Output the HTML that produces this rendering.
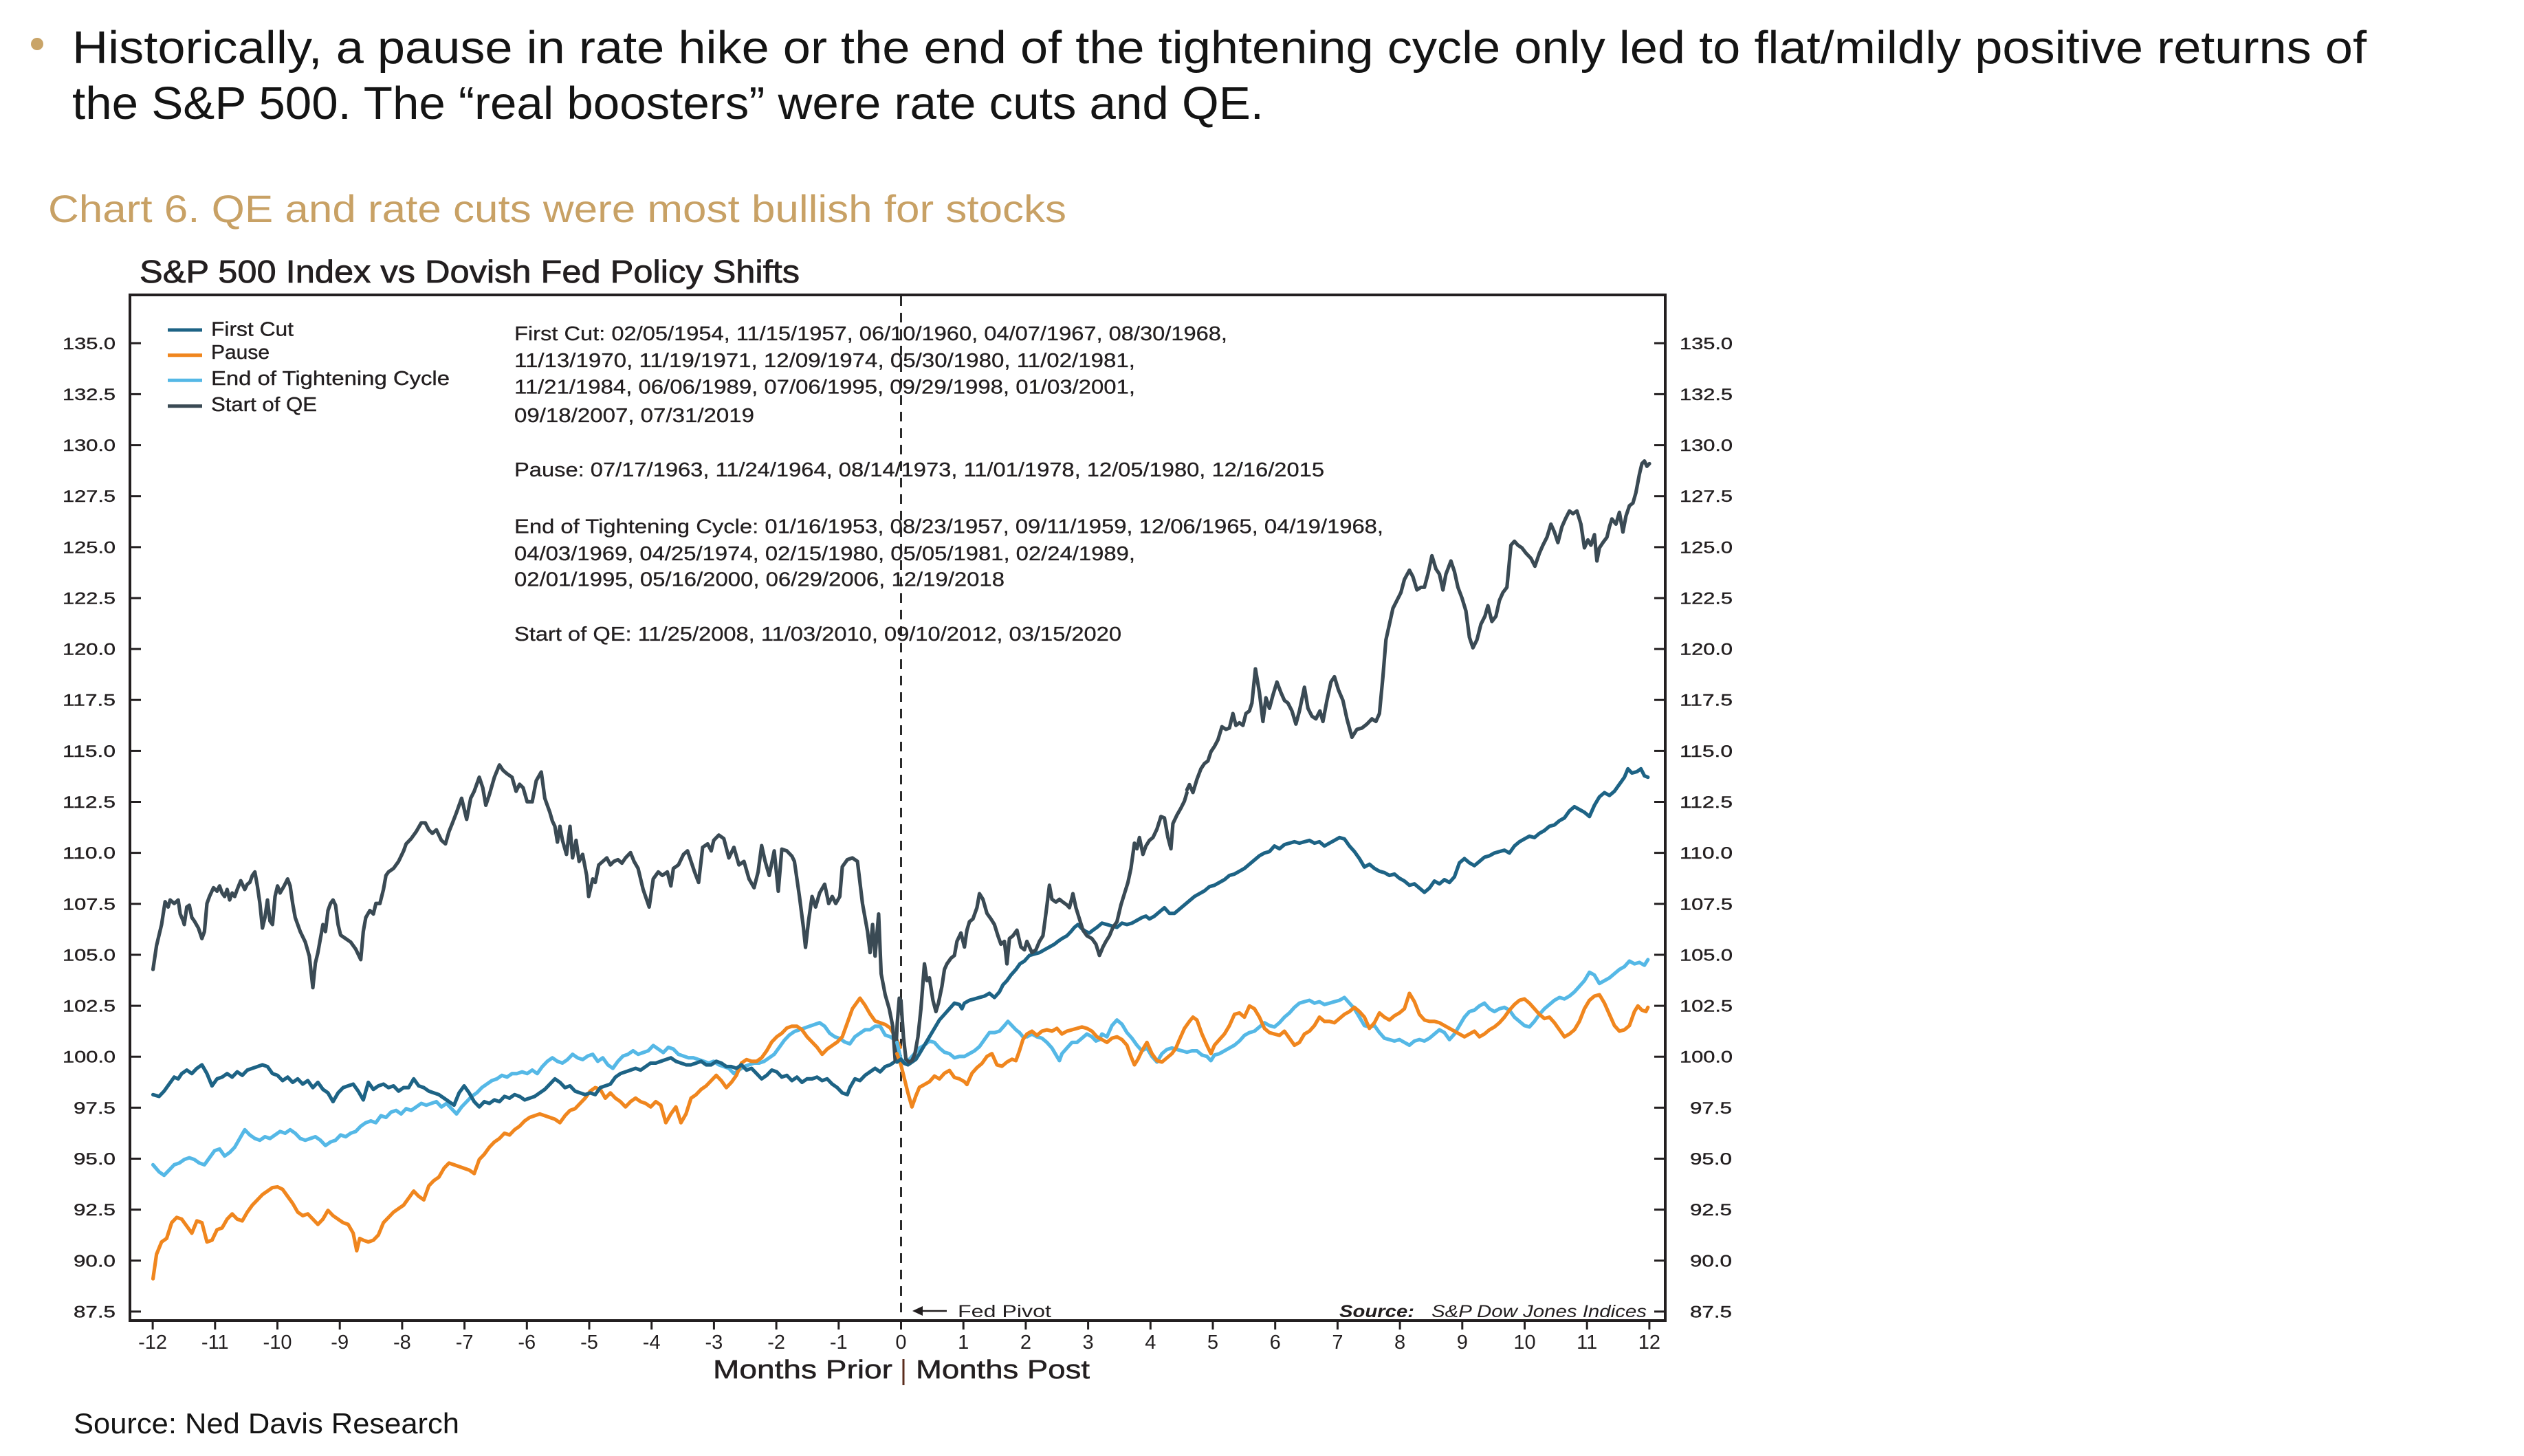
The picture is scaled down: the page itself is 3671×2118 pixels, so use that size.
<!DOCTYPE html>
<html>
<head>
<meta charset="utf-8">
<style>
  html,body{margin:0;padding:0;background:#ffffff;}
  body{width:3671px;height:2118px;overflow:hidden;}
  svg{display:block;}
  .t{font-family:"Liberation Sans", sans-serif;}
  .ax{font-family:"Liberation Sans", sans-serif;fill:#231f20;}
  .s{fill:none;stroke-width:5.2;stroke-linejoin:round;stroke-linecap:round;}
</style>
</head>
<body>
<svg width="3671" height="2118" viewBox="0 0 3671 2118" xmlns="http://www.w3.org/2000/svg">
  <rect x="0" y="0" width="3671" height="2118" fill="#ffffff"/>

  <!-- Header bullet text -->
  <circle cx="54" cy="64" r="9" fill="#c9a468"/>
  <text class="t" x="105" y="92" font-size="67" fill="#141414" textLength="3337" lengthAdjust="spacingAndGlyphs">Historically, a pause in rate hike or the end of the tightening cycle only led to flat/mildly positive returns of</text>
  <text class="t" x="105" y="173" font-size="67" fill="#141414" textLength="1733" lengthAdjust="spacingAndGlyphs">the S&amp;P 500.  The “real boosters” were rate cuts and QE.</text>

  <!-- Chart caption -->
  <text class="t" x="70" y="323" font-size="56" fill="#c8a165" textLength="1481" lengthAdjust="spacingAndGlyphs">Chart 6. QE and rate cuts were most bullish for stocks</text>

  <!-- Chart subtitle -->
  <text class="ax" x="203" y="411" font-size="46" stroke="#231f20" stroke-width="0.8" textLength="960" lengthAdjust="spacingAndGlyphs">S&amp;P 500 Index vs Dovish Fed Policy Shifts</text>

  <!-- Plot frame -->
  <rect x="189" y="429" width="2233" height="1492" fill="none" stroke="#231f20" stroke-width="4"/>

  <!-- Y ticks (inward) left & right -->
  <g stroke="#231f20" stroke-width="3">
    <line x1="189" y1="499.3" x2="205" y2="499.3"/><line x1="2406" y1="499.3" x2="2422" y2="499.3"/>
    <line x1="189" y1="573.4" x2="205" y2="573.4"/><line x1="2406" y1="573.4" x2="2422" y2="573.4"/>
    <line x1="189" y1="647.6" x2="205" y2="647.6"/><line x1="2406" y1="647.6" x2="2422" y2="647.6"/>
    <line x1="189" y1="721.7" x2="205" y2="721.7"/><line x1="2406" y1="721.7" x2="2422" y2="721.7"/>
    <line x1="189" y1="795.9" x2="205" y2="795.9"/><line x1="2406" y1="795.9" x2="2422" y2="795.9"/>
    <line x1="189" y1="870.0" x2="205" y2="870.0"/><line x1="2406" y1="870.0" x2="2422" y2="870.0"/>
    <line x1="189" y1="944.1" x2="205" y2="944.1"/><line x1="2406" y1="944.1" x2="2422" y2="944.1"/>
    <line x1="189" y1="1018.2" x2="205" y2="1018.2"/><line x1="2406" y1="1018.2" x2="2422" y2="1018.2"/>
    <line x1="189" y1="1092.4" x2="205" y2="1092.4"/><line x1="2406" y1="1092.4" x2="2422" y2="1092.4"/>
    <line x1="189" y1="1166.5" x2="205" y2="1166.5"/><line x1="2406" y1="1166.5" x2="2422" y2="1166.5"/>
    <line x1="189" y1="1240.6" x2="205" y2="1240.6"/><line x1="2406" y1="1240.6" x2="2422" y2="1240.6"/>
    <line x1="189" y1="1314.8" x2="205" y2="1314.8"/><line x1="2406" y1="1314.8" x2="2422" y2="1314.8"/>
    <line x1="189" y1="1388.9" x2="205" y2="1388.9"/><line x1="2406" y1="1388.9" x2="2422" y2="1388.9"/>
    <line x1="189" y1="1463.1" x2="205" y2="1463.1"/><line x1="2406" y1="1463.1" x2="2422" y2="1463.1"/>
    <line x1="189" y1="1537.2" x2="205" y2="1537.2"/><line x1="2406" y1="1537.2" x2="2422" y2="1537.2"/>
    <line x1="189" y1="1611.3" x2="205" y2="1611.3"/><line x1="2406" y1="1611.3" x2="2422" y2="1611.3"/>
    <line x1="189" y1="1685.5" x2="205" y2="1685.5"/><line x1="2406" y1="1685.5" x2="2422" y2="1685.5"/>
    <line x1="189" y1="1759.6" x2="205" y2="1759.6"/><line x1="2406" y1="1759.6" x2="2422" y2="1759.6"/>
    <line x1="189" y1="1833.8" x2="205" y2="1833.8"/><line x1="2406" y1="1833.8" x2="2422" y2="1833.8"/>
    <line x1="189" y1="1907.9" x2="205" y2="1907.9"/><line x1="2406" y1="1907.9" x2="2422" y2="1907.9"/>
  </g>

  <!-- Y labels left -->
  <g class="ax" font-size="24" text-anchor="end" stroke="#231f20" stroke-width="0.4">
    <text x="168" y="507.8" textLength="77" lengthAdjust="spacingAndGlyphs">135.0</text>
    <text x="168" y="581.9" textLength="77" lengthAdjust="spacingAndGlyphs">132.5</text>
    <text x="168" y="656.1" textLength="77" lengthAdjust="spacingAndGlyphs">130.0</text>
    <text x="168" y="730.2" textLength="77" lengthAdjust="spacingAndGlyphs">127.5</text>
    <text x="168" y="804.4" textLength="77" lengthAdjust="spacingAndGlyphs">125.0</text>
    <text x="168" y="878.5" textLength="77" lengthAdjust="spacingAndGlyphs">122.5</text>
    <text x="168" y="952.6" textLength="77" lengthAdjust="spacingAndGlyphs">120.0</text>
    <text x="168" y="1026.7" textLength="77" lengthAdjust="spacingAndGlyphs">117.5</text>
    <text x="168" y="1100.9" textLength="77" lengthAdjust="spacingAndGlyphs">115.0</text>
    <text x="168" y="1175.0" textLength="77" lengthAdjust="spacingAndGlyphs">112.5</text>
    <text x="168" y="1249.1" textLength="77" lengthAdjust="spacingAndGlyphs">110.0</text>
    <text x="168" y="1323.3" textLength="77" lengthAdjust="spacingAndGlyphs">107.5</text>
    <text x="168" y="1397.4" textLength="77" lengthAdjust="spacingAndGlyphs">105.0</text>
    <text x="168" y="1471.6" textLength="77" lengthAdjust="spacingAndGlyphs">102.5</text>
    <text x="168" y="1545.7" textLength="77" lengthAdjust="spacingAndGlyphs">100.0</text>
    <text x="168" y="1619.8" textLength="61" lengthAdjust="spacingAndGlyphs">97.5</text>
    <text x="168" y="1694.0" textLength="61" lengthAdjust="spacingAndGlyphs">95.0</text>
    <text x="168" y="1768.1" textLength="61" lengthAdjust="spacingAndGlyphs">92.5</text>
    <text x="168" y="1842.3" textLength="61" lengthAdjust="spacingAndGlyphs">90.0</text>
    <text x="168" y="1916.4" textLength="61" lengthAdjust="spacingAndGlyphs">87.5</text>
  </g>

  <!-- Y labels right -->
  <g class="ax" font-size="24" stroke="#231f20" stroke-width="0.4">
    <text x="2443" y="507.8" textLength="77" lengthAdjust="spacingAndGlyphs">135.0</text>
    <text x="2443" y="581.9" textLength="77" lengthAdjust="spacingAndGlyphs">132.5</text>
    <text x="2443" y="656.1" textLength="77" lengthAdjust="spacingAndGlyphs">130.0</text>
    <text x="2443" y="730.2" textLength="77" lengthAdjust="spacingAndGlyphs">127.5</text>
    <text x="2443" y="804.4" textLength="77" lengthAdjust="spacingAndGlyphs">125.0</text>
    <text x="2443" y="878.5" textLength="77" lengthAdjust="spacingAndGlyphs">122.5</text>
    <text x="2443" y="952.6" textLength="77" lengthAdjust="spacingAndGlyphs">120.0</text>
    <text x="2443" y="1026.7" textLength="77" lengthAdjust="spacingAndGlyphs">117.5</text>
    <text x="2443" y="1100.9" textLength="77" lengthAdjust="spacingAndGlyphs">115.0</text>
    <text x="2443" y="1175.0" textLength="77" lengthAdjust="spacingAndGlyphs">112.5</text>
    <text x="2443" y="1249.1" textLength="77" lengthAdjust="spacingAndGlyphs">110.0</text>
    <text x="2443" y="1323.3" textLength="77" lengthAdjust="spacingAndGlyphs">107.5</text>
    <text x="2443" y="1397.4" textLength="77" lengthAdjust="spacingAndGlyphs">105.0</text>
    <text x="2443" y="1471.6" textLength="77" lengthAdjust="spacingAndGlyphs">102.5</text>
    <text x="2443" y="1545.7" textLength="77" lengthAdjust="spacingAndGlyphs">100.0</text>
    <text x="2458" y="1619.8" textLength="61" lengthAdjust="spacingAndGlyphs">97.5</text>
    <text x="2458" y="1694.0" textLength="61" lengthAdjust="spacingAndGlyphs">95.0</text>
    <text x="2458" y="1768.1" textLength="61" lengthAdjust="spacingAndGlyphs">92.5</text>
    <text x="2458" y="1842.3" textLength="61" lengthAdjust="spacingAndGlyphs">90.0</text>
    <text x="2458" y="1916.4" textLength="61" lengthAdjust="spacingAndGlyphs">87.5</text>
  </g>

  <!-- X ticks (outward) -->
  <g stroke="#231f20" stroke-width="3">
    <line x1="222.1" y1="1921" x2="222.1" y2="1934"/>
    <line x1="312.8" y1="1921" x2="312.8" y2="1934"/>
    <line x1="403.5" y1="1921" x2="403.5" y2="1934"/>
    <line x1="494.2" y1="1921" x2="494.2" y2="1934"/>
    <line x1="584.9" y1="1921" x2="584.9" y2="1934"/>
    <line x1="675.6" y1="1921" x2="675.6" y2="1934"/>
    <line x1="766.3" y1="1921" x2="766.3" y2="1934"/>
    <line x1="857.0" y1="1921" x2="857.0" y2="1934"/>
    <line x1="947.7" y1="1921" x2="947.7" y2="1934"/>
    <line x1="1038.4" y1="1921" x2="1038.4" y2="1934"/>
    <line x1="1129.1" y1="1921" x2="1129.1" y2="1934"/>
    <line x1="1219.8" y1="1921" x2="1219.8" y2="1934"/>
    <line x1="1310.5" y1="1921" x2="1310.5" y2="1934"/>
    <line x1="1401.2" y1="1921" x2="1401.2" y2="1934"/>
    <line x1="1491.9" y1="1921" x2="1491.9" y2="1934"/>
    <line x1="1582.6" y1="1921" x2="1582.6" y2="1934"/>
    <line x1="1673.3" y1="1921" x2="1673.3" y2="1934"/>
    <line x1="1764.0" y1="1921" x2="1764.0" y2="1934"/>
    <line x1="1854.7" y1="1921" x2="1854.7" y2="1934"/>
    <line x1="1945.4" y1="1921" x2="1945.4" y2="1934"/>
    <line x1="2036.1" y1="1921" x2="2036.1" y2="1934"/>
    <line x1="2126.8" y1="1921" x2="2126.8" y2="1934"/>
    <line x1="2217.5" y1="1921" x2="2217.5" y2="1934"/>
    <line x1="2308.2" y1="1921" x2="2308.2" y2="1934"/>
    <line x1="2398.9" y1="1921" x2="2398.9" y2="1934"/>
  </g>

  <!-- X labels -->
  <g class="ax" font-size="29" text-anchor="middle">
    <text x="222.1" y="1962">-12</text>
    <text x="312.8" y="1962">-11</text>
    <text x="403.5" y="1962">-10</text>
    <text x="494.2" y="1962">-9</text>
    <text x="584.9" y="1962">-8</text>
    <text x="675.6" y="1962">-7</text>
    <text x="766.3" y="1962">-6</text>
    <text x="857.0" y="1962">-5</text>
    <text x="947.7" y="1962">-4</text>
    <text x="1038.4" y="1962">-3</text>
    <text x="1129.1" y="1962">-2</text>
    <text x="1219.8" y="1962">-1</text>
    <text x="1310.5" y="1962">0</text>
    <text x="1401.2" y="1962">1</text>
    <text x="1491.9" y="1962">2</text>
    <text x="1582.6" y="1962">3</text>
    <text x="1673.3" y="1962">4</text>
    <text x="1764.0" y="1962">5</text>
    <text x="1854.7" y="1962">6</text>
    <text x="1945.4" y="1962">7</text>
    <text x="2036.1" y="1962">8</text>
    <text x="2126.8" y="1962">9</text>
    <text x="2217.5" y="1962">10</text>
    <text x="2308.2" y="1962">11</text>
    <text x="2398.9" y="1962">12</text>
  </g>

  <!-- X axis title -->
  <text class="ax" x="1037" y="2005" font-size="38" stroke="#231f20" stroke-width="0.5" textLength="261" lengthAdjust="spacingAndGlyphs">Months Prior</text>
  <line x1="1314" y1="1977" x2="1314" y2="2015" stroke="#5b2d1e" stroke-width="3"/>
  <text class="ax" x="1332" y="2005" font-size="38" stroke="#231f20" stroke-width="0.5" textLength="253" lengthAdjust="spacingAndGlyphs">Months Post</text>

  <!-- Dashed Fed pivot line -->
  <line x1="1310.5" y1="431" x2="1310.5" y2="1919" stroke="#2a2a2a" stroke-width="3" stroke-dasharray="14 10"/>

  <!-- Fed Pivot annotation -->
  <line x1="1336" y1="1907" x2="1377" y2="1907" stroke="#231f20" stroke-width="2.5"/>
  <polygon points="1327,1907 1342,1900 1342,1914" fill="#231f20"/>
  <text class="ax" x="1393" y="1916" font-size="25" textLength="136" lengthAdjust="spacingAndGlyphs">Fed Pivot</text>

  <!-- Source inside plot -->
  <text class="ax" x="1948" y="1916" font-size="25" font-weight="bold" font-style="italic" textLength="109" lengthAdjust="spacingAndGlyphs">Source:</text>
  <text class="ax" x="2082" y="1916" font-size="25" font-style="italic" textLength="313" lengthAdjust="spacingAndGlyphs">S&amp;P Dow Jones Indices</text>

  <!-- Legend -->
  <g stroke-width="5">
    <line x1="244" y1="480" x2="294" y2="480" stroke="#1d6385"/>
    <line x1="244" y1="516.7" x2="294" y2="516.7" stroke="#f0861e"/>
    <line x1="244" y1="553.3" x2="294" y2="553.3" stroke="#55b8e6"/>
    <line x1="244" y1="590.7" x2="294" y2="590.7" stroke="#3a4a54"/>
  </g>
  <g class="ax" font-size="29" stroke="#231f20" stroke-width="0.4">
    <text x="307" y="488.3" textLength="120" lengthAdjust="spacingAndGlyphs">First Cut</text>
    <text x="307" y="522" textLength="85" lengthAdjust="spacingAndGlyphs">Pause</text>
    <text x="307" y="560" textLength="347" lengthAdjust="spacingAndGlyphs">End of Tightening Cycle</text>
    <text x="307" y="598" textLength="154" lengthAdjust="spacingAndGlyphs">Start of QE</text>
  </g>

  <!-- Annotation dates -->
  <g class="ax" font-size="29" stroke="#231f20" stroke-width="0.3">
    <text x="748" y="495" textLength="1037" lengthAdjust="spacingAndGlyphs">First Cut: 02/05/1954, 11/15/1957, 06/10/1960, 04/07/1967, 08/30/1968,</text>
    <text x="748" y="534" textLength="903" lengthAdjust="spacingAndGlyphs">11/13/1970, 11/19/1971, 12/09/1974, 05/30/1980, 11/02/1981,</text>
    <text x="748" y="572.5" textLength="903" lengthAdjust="spacingAndGlyphs">11/21/1984, 06/06/1989, 07/06/1995, 09/29/1998, 01/03/2001,</text>
    <text x="748" y="614" textLength="349" lengthAdjust="spacingAndGlyphs">09/18/2007, 07/31/2019</text>
    <text x="748" y="693" textLength="1178" lengthAdjust="spacingAndGlyphs">Pause: 07/17/1963, 11/24/1964, 08/14/1973, 11/01/1978, 12/05/1980, 12/16/2015</text>
    <text x="748" y="775.5" textLength="1264" lengthAdjust="spacingAndGlyphs">End of Tightening Cycle: 01/16/1953, 08/23/1957, 09/11/1959, 12/06/1965, 04/19/1968,</text>
    <text x="748" y="815" textLength="903" lengthAdjust="spacingAndGlyphs">04/03/1969, 04/25/1974, 02/15/1980, 05/05/1981, 02/24/1989,</text>
    <text x="748" y="852.5" textLength="713" lengthAdjust="spacingAndGlyphs">02/01/1995, 05/16/2000, 06/29/2006, 12/19/2018</text>
    <text x="748" y="932" textLength="883" lengthAdjust="spacingAndGlyphs">Start of QE: 11/25/2008, 11/03/2010, 09/10/2012, 03/15/2020</text>
  </g>

  <!-- ===================== SERIES ===================== -->
  <g transform="translate(180,1100) scale(0.7334,0.5102)">
    <polyline class="s" vector-effect="non-scaling-stroke" stroke="#55b8e6" points="58,1165 70,1185 80,1195 90,1180 100,1165 110,1160 120,1150 130,1145 140,1150 150,1160 160,1165 170,1145 180,1125 190,1120 200,1140 210,1130 220,1115 230,1090 240,1065 250,1080 260,1090 270,1095 280,1085 290,1090 300,1080 310,1070 320,1075 330,1065 340,1075 350,1090 360,1095 370,1090 380,1085 390,1095 400,1110 410,1100 420,1095 430,1080 440,1085 450,1075 460,1070 470,1055 480,1045 490,1040 500,1045 510,1025 520,1030 530,1015 540,1010 550,1020 560,1005 570,1010 580,1000 590,990 600,995 610,990 620,985 630,1000 640,990 650,1005 660,1020 670,1000 680,985 690,970 700,960 710,945 720,935 730,925 740,920 750,910 760,915 770,905 780,905 790,900 800,905 810,895 820,905 830,885 840,870 850,860 860,870 870,875 880,865 890,850 900,860 910,865 920,855 930,850 940,870 950,860 960,880 970,890 980,870 990,855 1000,850 1010,840 1020,850 1030,845 1040,840 1050,825 1060,835 1070,845 1080,830 1090,835 1100,850 1110,855 1120,860 1130,860 1140,865 1150,870 1160,875 1170,870 1180,880 1190,885 1200,890 1210,905 1220,895 1230,885 1240,880 1250,875 1260,875 1270,870 1280,860 1290,850 1300,830 1310,810 1320,795 1330,785 1340,780 1350,775 1360,770 1370,765 1380,760 1390,770 1400,790 1410,800 1420,805 1430,815 1440,820 1450,800 1460,790 1470,780 1480,780 1490,770 1500,770 1510,795 1520,800 1530,810"/>
    <polyline class="s" vector-effect="non-scaling-stroke" stroke="#f0861e" points="58,1490 65,1420 75,1385 85,1375 95,1330 105,1315 115,1320 125,1340 135,1360 145,1325 155,1330 165,1385 175,1380 185,1350 195,1345 205,1320 215,1305 225,1320 235,1325 245,1300 255,1280 265,1265 275,1250 285,1240 295,1230 305,1228 315,1235 325,1255 335,1275 345,1300 355,1310 365,1305 375,1320 385,1335 395,1320 405,1295 415,1310 425,1320 435,1330 445,1335 455,1360 462,1410 468,1375 475,1380 485,1385 495,1380 505,1365 515,1330 525,1315 535,1300 545,1290 555,1280 565,1260 575,1240 585,1255 595,1265 605,1225 615,1210 625,1200 635,1175 645,1160 655,1165 665,1170 675,1175 685,1180 695,1190 705,1150 715,1135 725,1115 735,1100 745,1090 755,1075 765,1080 775,1065 785,1055 795,1040 805,1030 815,1025 825,1020 835,1025 845,1030 855,1035 865,1045 875,1025 885,1010 895,1005 905,990 915,975 925,955 935,945 945,950 955,975 965,960 975,975 985,985 995,1000 1005,985 1015,975 1025,985 1035,990 1045,1000 1055,985 1065,995 1075,1045 1085,1020 1095,1000 1105,1045 1115,1020 1125,975 1135,965 1145,950 1155,940 1165,925 1175,910 1185,925 1195,945 1205,930 1215,910 1225,875 1235,865 1245,870 1255,870 1265,860 1275,840 1285,815 1295,800 1305,790 1315,775 1325,770 1335,770 1345,780 1355,800 1365,815 1375,830 1385,850 1395,835 1405,825 1415,815 1425,800 1435,760 1445,720 1455,700 1460,690 1470,710 1480,735 1490,755 1500,760 1510,765 1520,775 1530,800 1540,830"/>
    <polyline class="s" vector-effect="non-scaling-stroke" stroke="#1d6385" points="58,965 70,970 80,955 90,935 100,915 108,920 115,905 125,895 135,905 145,890 155,880 165,905 175,940 185,920 195,915 205,905 215,915 225,900 235,910 245,895 255,890 265,885 275,880 285,885 295,905 305,910 315,925 325,915 335,930 345,920 355,935 365,925 375,945 385,930 395,950 405,960 415,985 425,960 435,945 445,940 455,935 465,955 475,980 485,930 495,950 505,940 515,935 525,945 535,940 545,955 555,945 565,945 575,920 585,940 595,945 605,955 615,960 625,965 635,975 645,985 655,995 665,960 675,940 685,960 695,985 705,1000 715,985 725,990 735,980 745,985 755,970 765,975 775,965 785,970 795,980 805,975 815,970 825,960 835,950 845,935 855,920 865,930 875,945 885,940 895,955 905,960 915,965 925,960 935,965 945,945 955,940 965,935 975,915 985,905 995,900 1005,895 1015,890 1025,895 1035,885 1045,875 1055,875 1065,870 1075,865 1085,860 1095,870 1105,875 1115,880 1125,880 1135,875 1145,870 1155,880 1165,880 1175,870 1185,875 1195,885 1205,885 1215,890 1225,880 1235,895 1245,890 1255,905 1265,920 1275,910 1285,895 1295,900 1305,915 1315,910 1325,925 1335,915 1345,930 1355,920 1365,920 1375,915 1385,925 1395,920 1405,935 1415,945 1425,960 1435,965 1440,945 1450,920 1460,925 1470,910 1480,900 1490,890 1500,900 1510,885 1520,880 1530,870"/>
    <polyline class="s" vector-effect="non-scaling-stroke" stroke="#3a4a54" points="58,608 65,540 75,480 82,415 88,430 92,410 100,420 108,410 112,450 118,470 120,480 125,430 130,425 135,460 140,470 148,490 155,520 160,500 165,420 170,400 178,375 185,385 190,370 195,390 200,400 205,380 210,410 215,390 220,400 225,380 232,355 240,380 245,365 250,360 255,340 260,330 265,370 270,420 275,490 280,460 285,410 290,470 295,480 300,400 305,370 310,390 318,370 325,350 330,370 335,420 340,460 350,500 360,530 368,570 375,660 380,590 385,560 390,520 395,480 400,500 405,440 410,420 415,410 420,425 425,480 430,510 440,520 450,530 460,550 470,580 475,500 480,460 488,440 495,450 500,420 508,420 515,380 520,340 525,330 535,320 545,300 555,270 560,250 570,235 580,215 590,190 598,190 605,210 612,220 620,210 630,240 638,250 645,215 652,190 660,160 665,140 670,120 675,150 680,180 688,120 695,100 700,80 705,60 712,90 718,140 725,110 735,60 745,25 752,40 760,50 770,60 778,100 785,80 792,90 800,130 810,130 818,70 828,45 835,120 845,160 850,185 855,200 860,245 865,200 870,240 878,280 885,200 890,290 897,240 903,300 910,280 918,340 922,400 930,350 935,360 942,310 950,300 958,290 965,310 972,300 980,295 988,305 995,290 1005,275 1012,300 1020,320 1030,380 1042,430 1050,350 1060,330 1068,340 1078,330 1085,370 1090,320 1100,310 1110,280 1118,270 1125,300 1132,330 1140,360 1148,260 1158,250 1165,270 1170,240 1180,225 1190,235 1200,290 1210,260 1220,310 1230,300 1240,350 1250,375 1258,330 1265,255 1272,300 1280,340 1290,270 1298,385 1305,265 1315,270 1325,285 1330,300 1340,400 1348,490 1352,545 1358,470 1365,400 1372,430 1380,390 1390,365 1398,420 1405,400 1412,420 1420,400 1425,315 1435,295 1445,290 1455,300 1465,420 1475,500 1480,560 1485,480 1490,570 1497,450 1502,620 1510,680 1518,720 1525,770 1530,870 1534,760 1538,690 1541,700"/>
  </g>

  <g transform="translate(1290,1100) scale(0.7272,0.4082)">
    <polyline class="s" vector-effect="non-scaling-stroke" stroke="#55b8e6" points="20,1020 28,1080 35,1090 45,1080 55,1060 65,1040 75,1030 85,1015 95,1020 105,1040 115,1055 125,1060 135,1075 145,1070 155,1070 165,1060 175,1050 185,1035 195,1010 205,985 215,985 225,980 235,960 242,945 250,960 258,975 265,985 272,1000 280,1000 290,990 300,1000 310,1005 320,1020 330,1040 340,1070 345,1085 350,1060 360,1040 370,1020 380,1020 390,1005 400,990 410,1000 418,1015 425,1010 430,990 440,1000 450,960 460,940 470,955 480,985 490,1005 500,1030 510,1050 520,1040 530,1070 540,1090 550,1060 560,1045 570,1040 580,1045 590,1050 600,1055 610,1050 620,1050 630,1065 640,1070 648,1085 655,1065 665,1060 675,1050 685,1040 695,1030 705,1015 715,995 725,985 735,980 745,965 755,950 765,960 775,965 785,950 795,930 805,915 815,895 825,880 835,875 845,870 855,880 865,875 875,885 885,880 895,875 905,870 915,860 925,880 935,900 945,930 955,960 965,965 975,960 985,985 995,1005 1005,1010 1015,1015 1025,1010 1035,1020 1045,1030 1055,1015 1065,1010 1075,1015 1085,1005 1095,990 1105,975 1115,985 1125,1010 1135,990 1145,960 1155,930 1165,910 1175,905 1185,890 1195,880 1205,900 1215,910 1225,900 1235,895 1245,905 1255,930 1265,945 1275,960 1285,965 1295,945 1305,920 1315,900 1325,885 1335,870 1345,860 1355,865 1365,855 1375,840 1385,820 1395,800 1405,770 1415,780 1425,810 1435,800 1445,790 1455,775 1465,760 1475,750 1485,730 1495,740 1505,735 1515,745 1522,725"/>
    <polyline class="s" vector-effect="non-scaling-stroke" stroke="#f0861e" points="20,1060 28,1100 35,1150 42,1200 50,1250 58,1210 65,1180 75,1170 85,1160 95,1140 105,1150 115,1130 125,1120 135,1145 145,1150 155,1160 160,1170 170,1130 180,1110 190,1095 200,1070 210,1060 220,1100 230,1105 240,1090 250,1080 258,1085 265,1050 272,1010 280,990 290,980 300,995 310,980 320,975 330,980 340,970 350,990 360,980 370,975 380,970 390,965 400,970 410,980 420,1000 430,1010 440,1020 450,1005 460,1000 470,1010 480,1030 488,1070 495,1100 502,1080 510,1050 520,1020 530,1060 540,1085 550,1090 560,1075 570,1060 578,1040 585,1010 595,970 605,945 612,930 620,940 630,990 640,1030 648,1060 655,1030 665,1010 675,990 685,960 695,920 705,915 715,930 725,890 735,900 745,930 755,970 765,985 775,990 785,995 795,980 805,1005 815,1030 825,1020 835,990 845,980 855,960 865,930 875,945 885,945 895,950 905,935 915,920 925,910 935,895 945,910 955,930 965,970 975,950 985,915 995,930 1005,940 1015,925 1025,915 1035,900 1045,845 1055,875 1065,920 1075,940 1085,945 1095,945 1105,950 1115,960 1125,970 1135,980 1145,990 1155,1000 1165,990 1175,980 1185,1000 1195,990 1205,975 1215,965 1225,950 1235,930 1245,905 1255,885 1265,870 1275,865 1285,880 1295,900 1305,920 1315,935 1325,930 1335,950 1345,975 1355,1000 1365,990 1375,975 1385,945 1395,900 1405,870 1415,855 1425,850 1435,880 1445,920 1455,960 1465,980 1475,975 1485,960 1495,910 1502,890 1510,905 1518,910 1522,895"/>
    <polyline class="s" vector-effect="non-scaling-stroke" stroke="#1d6385" points="20,1090 28,1080 35,1095 42,1100 50,1090 58,1080 65,1060 75,1030 85,1000 95,970 105,940 115,920 125,900 135,880 145,885 150,900 155,880 165,870 175,865 185,860 195,855 205,845 215,860 225,840 232,815 240,800 248,780 258,760 266,740 275,730 285,710 295,705 305,700 315,690 325,680 335,670 342,660 350,650 360,640 368,625 375,610 382,600 390,615 398,625 405,630 412,620 420,610 430,595 440,600 450,605 460,610 470,595 480,600 490,595 500,585 510,575 518,570 525,580 535,570 545,555 555,540 565,560 575,560 585,545 595,530 605,515 615,500 625,490 635,480 645,465 655,460 665,450 675,440 685,425 695,420 705,410 715,400 725,385 735,370 745,355 755,345 765,340 775,320 785,330 795,315 805,310 815,305 825,310 835,305 845,300 855,310 865,305 875,320 885,310 895,300 905,290 915,295 925,320 935,340 945,365 955,395 965,385 975,400 985,410 995,415 1005,425 1015,420 1025,435 1035,445 1045,460 1055,455 1065,470 1075,485 1085,470 1095,445 1105,455 1115,440 1125,450 1135,430 1145,380 1155,365 1165,380 1175,390 1185,375 1195,360 1205,355 1215,345 1225,340 1235,335 1245,345 1255,320 1265,305 1275,295 1285,285 1295,290 1305,275 1315,265 1325,250 1335,245 1345,230 1355,220 1365,195 1375,180 1385,190 1395,200 1405,215 1415,175 1425,145 1435,130 1445,140 1455,125 1465,100 1475,75 1482,45 1490,60 1500,55 1508,45 1515,70 1522,75"/>
    <polyline class="s" vector-effect="non-scaling-stroke" stroke="#3a4a54" points="28,870 33,1000 38,1080 44,1090 50,1085 56,1060 62,1000 68,900 75,740 80,800 85,790 92,870 98,910 103,880 110,820 115,760 120,740 128,720 135,710 140,660 148,630 155,680 160,620 165,590 172,580 180,540 185,490 192,510 200,560 208,580 215,600 222,640 228,670 235,660 240,740 245,650 252,640 260,620 268,680 275,690 280,660 285,680 290,700 298,690 305,660 312,640 318,560 325,460 330,510 338,520 345,510 352,520 360,530 365,540 372,490 378,540 385,580 392,620 400,640 410,650 418,670 425,710 432,680 438,660 445,640 452,610 460,590 468,530 475,490 482,450 488,400 495,310 500,330 505,290 512,350 518,320 525,300 532,290 540,260 548,215 555,220 562,290 568,330 572,240 580,210 588,185 595,160 600,130"/>
  </g>

  <g transform="translate(1290,640) scale(0.7272,0.3827)">
    <polyline class="s" vector-effect="non-scaling-stroke" stroke="#3a4a54" points="600,1330 605,1310 612,1340 620,1290 628,1250 635,1230 642,1220 648,1185 655,1165 662,1140 670,1090 678,1100 685,1095 692,1040 698,1085 705,1075 712,1085 718,1040 725,1030 730,1000 737,870 745,960 752,1070 758,980 765,1020 772,970 780,920 788,960 795,990 802,1000 810,1030 818,1080 825,1030 835,940 842,1020 850,1050 858,1060 866,1030 872,1070 880,990 888,920 895,900 903,950 912,990 920,1060 930,1130 940,1100 950,1095 960,1080 970,1060 978,1070 985,1040 992,900 998,760 1005,700 1012,640 1020,610 1028,580 1035,530 1045,495 1052,520 1060,570 1068,560 1075,560 1082,510 1090,440 1098,490 1105,510 1112,570 1118,510 1128,460 1135,500 1142,560 1150,600 1158,650 1165,750 1172,790 1180,760 1188,700 1196,670 1202,630 1210,690 1218,670 1225,610 1232,580 1240,560 1248,400 1255,385 1262,400 1270,410 1278,430 1288,450 1296,480 1305,430 1312,400 1320,370 1328,320 1335,350 1342,390 1350,330 1357,300 1365,270 1372,280 1380,270 1388,320 1395,410 1402,380 1408,400 1415,360 1420,460 1425,410 1432,390 1440,370 1445,330 1450,300 1458,320 1465,275 1472,350 1478,290 1485,250 1492,240 1498,200 1505,130 1510,90 1515,80 1520,100 1525,90"/>
  </g>

  <!-- Footer source -->
  <text class="t" x="107" y="2085" font-size="42" fill="#141414" textLength="561" lengthAdjust="spacingAndGlyphs">Source: Ned Davis Research</text>
</svg>
</body>
</html>
